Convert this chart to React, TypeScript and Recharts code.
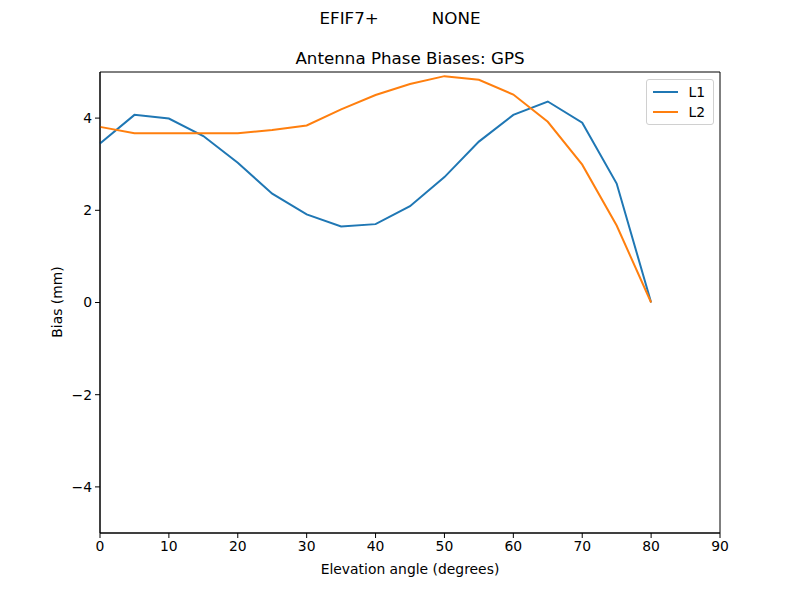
import * as React from "react"
import { LineChart, Line, XAxis, YAxis, ReferenceArea } from "recharts"

const elevation = [0, 5, 10, 15, 20, 25, 30, 35, 40, 45, 50, 55, 60, 65, 70, 75, 80]
const l1Bias = [3.45, 4.07, 3.99, 3.61, 3.03, 2.36, 1.91, 1.65, 1.7, 2.09, 2.72, 3.49, 4.07, 4.36, 3.9, 2.58, 0]
const l2Bias = [3.81, 3.67, 3.67, 3.67, 3.67, 3.74, 3.84, 4.19, 4.5, 4.74, 4.91, 4.83, 4.51, 3.92, 2.99, 1.67, 0]
const xTicks = [0, 10, 20, 30, 40, 50, 60, 70, 80, 90]
const yTicks = [-4, -2, 0, 2, 4]

const data = elevation.map((e, i) => ({ elev: e, L1: l1Bias[i], L2: l2Bias[i] }))

const font = "'DejaVu Sans', sans-serif"
const tickStyle = { fontSize: 13.9, fill: "#000", fontFamily: font }

function LegendBox() {
  const items = [
    { name: "L1", color: "#1f77b4" },
    { name: "L2", color: "#ff7f0e" },
  ]
  return (
    <div
      style={{
        position: "absolute",
        top: 79,
        left: 646,
        border: "1px solid #d0d0d0",
        borderRadius: 3,
        background: "#fff",
        padding: "2px 8px 2px 6px",
        width: 52,
        fontFamily: font,
        fontSize: 13.9,
      }}
    >
      {items.map((it) => (
        <div key={it.name} style={{ display: "flex", alignItems: "center", height: 20 }}>
          <div style={{ width: 28, height: 2, background: it.color, marginRight: 10 }} />
          <span>{it.name}</span>
        </div>
      ))}
    </div>
  )
}

export default function App() {
  return (
    <div style={{ position: "absolute", left: 0, top: 0, width: 800, height: 600, background: "#fff" }}>
      <div style={{ position: "absolute", top: 8, left: 0, width: 800, textAlign: "center", fontFamily: font, fontSize: 16.7 }}>
        EFIF7+&nbsp;&nbsp;&nbsp;&nbsp;&nbsp;&nbsp;&nbsp;&nbsp;&nbsp;&nbsp;NONE
      </div>
      <div style={{ position: "absolute", top: 48, left: 100, width: 620, textAlign: "center", fontFamily: font, fontSize: 16.7 }}>
        Antenna Phase Biases: GPS
      </div>
      <div style={{ position: "absolute", top: 561, left: 100, width: 620, textAlign: "center", fontFamily: font, fontSize: 13.9 }}>
        Elevation angle (degrees)
      </div>
      <div
        style={{
          position: "absolute",
          top: 302,
          left: 57,
          transform: "translate(-50%, -50%) rotate(-90deg)",
          whiteSpace: "nowrap",
          fontFamily: font,
          fontSize: 13.9,
        }}
      >
        Bias (mm)
      </div>
      <LineChart width={800} height={600} data={data} margin={{ top: 72, right: 80, bottom: 37, left: 50 }}>
        <XAxis
          dataKey="elev"
          type="number"
          domain={[0, 90]}
          ticks={xTicks}
          height={30}
          stroke="#000"
          tick={tickStyle}
          tickSize={5}
          tickMargin={3}
        />
        <YAxis
          type="number"
          domain={[-5, 5]}
          ticks={yTicks}
          width={50}
          stroke="#000"
          tick={tickStyle}
          tickSize={5}
          tickMargin={3}
          tickFormatter={(v: number) => (v < 0 ? `\u2212${Math.abs(v)}` : `${v}`)}
        />
        <ReferenceArea x1={0} x2={90} y1={-5} y2={5} fill="none" stroke="#000" strokeOpacity={1} />
        <Line dataKey="L1" stroke="#1f77b4" strokeWidth={2} dot={false} isAnimationActive={false} />
        <Line dataKey="L2" stroke="#ff7f0e" strokeWidth={2} dot={false} isAnimationActive={false} />
      </LineChart>
      <LegendBox />
    </div>
  )
}
